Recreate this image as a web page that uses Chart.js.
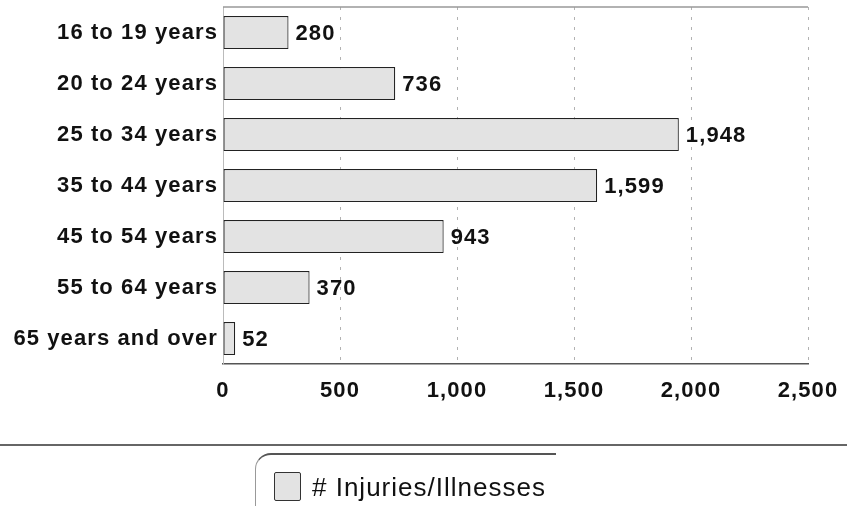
<!DOCTYPE html>
<html>
<head>
<meta charset="utf-8">
<script src="https://cdn.jsdelivr.net/npm/chart.js@4.4.1/dist/chart.umd.min.js"></script>
<style>
  html, body { margin: 0; padding: 0; background: #fff; }
  #wrap { position: relative; width: 847px; height: 506px; overflow: hidden; }
  #grafica { position: absolute; left: 0; top: 0; }
  #pie { position: absolute; left: 0; top: 444px; width: 847px; height: 62px; border-top: 2px solid #666; }
  #cajaLeyenda {
    position: absolute; left: 255px; top: 7px; width: 300px; height: 70px;
    border-top: 2px solid #555; border-left: 1.5px solid #999; border-top-left-radius: 16px;
  }
  #muestra {
    position: absolute; left: 18px; top: 17px; width: 25px; height: 27px;
    background: #e3e3e3; border: 1.5px solid #333; border-radius: 2px;
  }
  #textoLeyenda {
    position: absolute; left: 56px; top: 17px; font: 26px "Liberation Sans", Arial, sans-serif;
    letter-spacing: 1px; color: #111; white-space: nowrap; line-height: 30px;
  }
</style>
</head>
<body>
<div id="wrap">
  <canvas id="grafica" width="847" height="445"></canvas>
  <div id="pie">
    <div id="cajaLeyenda">
      <div id="muestra"></div>
      <div id="textoLeyenda"></div>
    </div>
  </div>
</div>
<script>
// Datos
const categorias = ["16 to 19 years", "20 to 24 years", "25 to 34 years", "35 to 44 years",
                    "45 to 54 years", "55 to 64 years", "65 years and over"];
const lesiones = [280, 736, 1948, 1599, 943, 370, 52];
const etiquetaSerie = "# Injuries/Illnesses";
const ticksX = [0, 500, 1000, 1500, 2000, 2500];

document.getElementById("textoLeyenda").textContent = etiquetaSerie;

const fuente = { family: "'Liberation Sans', Arial, sans-serif", size: 22, weight: 'bold' };

// Espaciado de letras para parecerse al original
const espaciado = {
  id: 'espaciado',
  beforeLayout(chart) { chart.ctx.letterSpacing = '1.1px'; },
  beforeDraw(chart) { chart.ctx.letterSpacing = '1.1px'; }
};

// Marco superior y valores al final de cada barra
const extras = {
  id: 'extras',
  beforeDatasetsDraw(chart) {
    const ctx = chart.ctx;
    const area = chart.chartArea;
    ctx.save();
    ctx.strokeStyle = '#999';
    ctx.lineWidth = 1.5;
    ctx.beginPath();
    ctx.moveTo(area.left, area.top);
    ctx.lineTo(area.right, area.top);
    ctx.stroke();
    ctx.restore();
  },
  afterDatasetsDraw(chart) {
    const ctx = chart.ctx;
    const meta = chart.getDatasetMeta(0);
    ctx.save();
    ctx.letterSpacing = '1.1px';
    ctx.fillStyle = '#111';
    ctx.font = "bold 22px 'Liberation Sans', Arial, sans-serif";
    ctx.textAlign = 'left';
    ctx.textBaseline = 'middle';
    meta.data.forEach(function(barra, i) {
      ctx.fillText(lesiones[i].toLocaleString('en-US'), barra.x + 7, barra.y + 1);
    });
    ctx.restore();
  }
};

new Chart(document.getElementById("grafica"), {
  type: 'bar',
  data: {
    labels: categorias,
    datasets: [{
      label: etiquetaSerie,
      data: lesiones,
      backgroundColor: '#e3e3e3',
      borderColor: '#222',
      borderWidth: 1.2,
      borderSkipped: false,
      barPercentage: 0.65,
      categoryPercentage: 1
    }]
  },
  options: {
    indexAxis: 'y',
    responsive: false,
    animation: false,
    layout: { padding: { top: 7, right: 39, left: 0, bottom: 0 } },
    plugins: {
      legend: { display: false },
      tooltip: { enabled: false }
    },
    scales: {
      x: {
        min: 0,
        max: 2500,
        afterBuildTicks(scale) { scale.ticks = ticksX.map(v => ({ value: v })); },
        afterFit(scale) {
          scale.height = 81;
          scale.paddingLeft = 0;
          scale.paddingRight = 0;
        },
        ticks: {
          color: '#111',
          font: fuente,
          padding: 14,
          maxRotation: 0,
          callback: v => v.toLocaleString('en-US')
        },
        grid: {
          drawTicks: false,
          color: 'rgba(0,0,0,0.3)',
          lineWidth: 1
        },
        border: { display: true, color: '#555', width: 1.5, dash: [3, 7] }
      },
      y: {
        afterFit(scale) {
          scale.width = 223;
          scale.paddingTop = 0;
          scale.paddingBottom = 0;
        },
        ticks: { color: '#111', font: fuente, padding: 5 },
        grid: { display: false, drawTicks: false },
        border: { display: true, color: '#bbb', width: 1, dash: [2, 4] }
      }
    }
  },
  plugins: [espaciado, extras]
});
</script>
</body>
</html>
